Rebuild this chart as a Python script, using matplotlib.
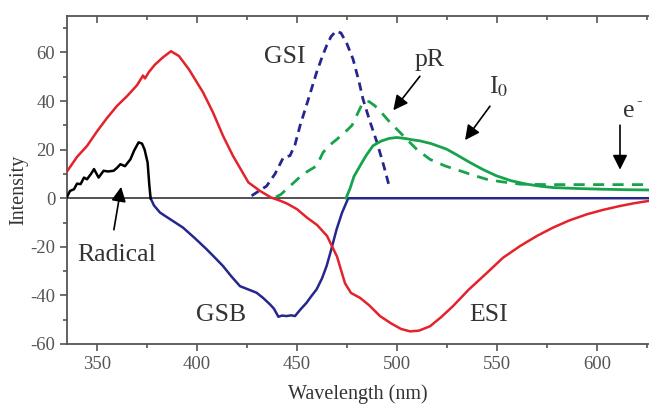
import numpy as np
import matplotlib.pyplot as plt

plt.rcParams['font.family'] = ['Liberation Serif', 'DejaVu Serif']
plt.rcParams['mathtext.fontset'] = 'stix'
plt.rcParams['axes.unicode_minus'] = False

# ESI / excited-state trace (red)
wl_esi = [335, 340, 345, 350, 355, 360, 365, 370, 373, 374, 376, 379, 383, 387,
          391, 396, 403, 408, 413, 418, 425.7, 431.5, 437, 441.5, 445, 450, 455,
          460, 465, 470, 474, 477, 481.5, 486, 491.5, 497, 502, 506.5, 511, 516.5,
          522, 528, 536, 545, 553, 561.5, 570, 578, 586, 595, 603, 611.5, 619, 626]
esi = [11, 17, 21.5, 27.5, 33, 38, 42, 46.5, 50.5, 49.3, 52, 55, 58, 60.5,
       58.5, 53, 43.6, 35.3, 25.7, 17.4, 6.5, 3, 0.3, -1, -2.2, -4.5, -8,
       -11, -15.5, -24, -35, -39, -41, -44, -48.5, -51.5, -53.8, -54.8, -54.5, -52.7,
       -49, -44.4, -37.5, -30.7, -24.5, -19.7, -15.5, -12.1, -9.2, -6.6, -4.8, -3.2, -2, -1.1]

# radical absorption (black)
wl_rad = [335, 336.5, 338.5, 340, 341.8, 343.5, 345, 347, 348.5, 350.8, 353.3, 355.5,
          358.3, 360, 361.7, 364, 366.7, 368.5, 370.8, 372.5, 373.8, 375.3, 376.2, 376.8]
rad = [0.5, 3, 3.7, 6, 5.8, 8.5, 7.8, 10, 12, 8.5, 11.3, 11, 11.3, 12.5, 14, 13.2,
       16, 19.5, 23, 22.5, 20, 14.7, 5, 0]

# ground-state bleach (blue)
wl_gsb = [376.8, 378.5, 381.5, 385, 388, 393, 399, 404.8, 409, 413, 417, 421.5, 425.5,
          429.8, 433, 436.5, 438.5, 440.7, 442.5, 444.8, 447, 449, 451.5, 454.8, 457,
          459.8, 462.5, 464.8, 467, 469.8, 472.5, 475.6, 500, 550, 600, 626]
gsb = [0, -3, -5.9, -7.8, -9.4, -12.1, -16.5, -21, -24.5, -27.9, -32, -36.2, -37.5,
       -38.9, -41, -43.7, -45.5, -48.8, -48.3, -48.5, -48.2, -48.5, -46, -43, -40.5,
       -37.5, -33, -27.9, -21.5, -12.8, -6, 0, 0, 0, 0, 0]

# GSI (blue dashed)
wl_gsi = [427.3, 431, 434.8, 439, 443.2, 446.5, 449, 451.5, 455.7, 459.8, 462.5, 464.8,
          467, 469.5, 472, 475, 478, 481, 483, 486.5, 490, 493.5, 496.5]
gsi = [1, 3, 5, 10, 16.8, 17.5, 22, 29.8, 40.8, 51.8, 58, 62.8, 66.5, 68.8, 68,
       63.5, 57.3, 48, 40.8, 31.5, 23, 13, 3.7]

# pR (green dashed)
wl_pr = [439.5, 442, 446.5, 453, 459.8, 463, 466, 470, 474.8, 477.5, 479.8, 483,
         486, 489, 493, 496.5, 501, 504.8, 510, 516.5, 524, 531.5, 538, 544.8,
         552, 561.5, 575, 600, 626]
pr = [0.5, 1.6, 5, 9.9, 13.3, 18.8, 21.6, 24.3, 27.8, 30, 34, 39.5, 39.8, 38,
      34.5, 31.2, 27.5, 24.3, 20, 16, 13.3, 11.3, 9.5, 7.8, 6.8, 5.8, 5.6, 5.6, 5.6]

# I0 (green solid)
wl_i0 = [474.5, 476.5, 478.5, 481.5, 484.5, 488, 492, 496, 499.8, 504, 508, 511.5,
         517, 524.8, 530, 536.5, 543, 549.8, 557, 564.8, 572, 578, 590, 603, 615, 626]
i0 = [0, 4, 9, 13.3, 17.5, 21.6, 23.5, 24.6, 25, 24.6, 24, 23.6, 22.5, 20.2, 17.8,
      14.7, 11.8, 9.2, 7.2, 5.8, 4.9, 4.4, 4, 3.7, 3.5, 3.4]

red = '#e4222b'
blue = '#26268f'
green = '#17a24c'
txt = '#333333'

fig = plt.figure(figsize=(6.49, 4.04), dpi=100)
ax = fig.add_axes([67/649, 1 - 344/404, 582/649, 328/404])

ax.axhline(0, color='#444444', lw=1.3, zorder=1)
ax.plot(wl_gsb, gsb, color=blue, lw=1.8, zorder=3)
ax.plot(wl_esi, esi, color=red, lw=1.8, zorder=4)
ax.plot(wl_rad, rad, color='black', lw=1.8, zorder=4)
ax.plot(wl_gsi, gsi, color=blue, lw=2, ls=(0, (3, 2)), zorder=3)
ax.plot(wl_pr, pr, color=green, lw=2, ls=(0, (4, 3)), zorder=3)
ax.plot(wl_i0, i0, color=green, lw=2, zorder=3)

ax.set_xlim(335, 626)
ax.set_ylim(-60, 75)
ax.set_xticks([350, 400, 450, 500, 550, 600])
ax.set_xticks([375, 425, 475, 525, 575, 625], minor=True)
ax.set_yticks([-60, -40, -20, 0, 20, 40, 60])
ax.set_yticks([-50, -30, -10, 10, 30, 50, 70], minor=True)

ax.spines['right'].set_visible(False)
for s in ['left', 'bottom', 'top']:
    ax.spines[s].set_color('#555555')
    ax.spines[s].set_linewidth(1.3)
ax.tick_params(which='major', length=5, width=1.2, color='#555555',
               labelsize=13.5, labelcolor='#555555', direction='out')
ax.tick_params(which='minor', length=3, width=1.2, color='#555555', direction='out')

# mirrored ticks on the top axis, pointing inward
top = ax.secondary_xaxis('top')
top.set_xticks([350, 400, 450, 500, 550, 600])
top.set_xticks([375, 425, 475, 525, 575, 625], minor=True)
top.tick_params(which='major', direction='in', length=5, width=1.2, color='#555555',
                labeltop=False)
top.tick_params(which='minor', direction='in', length=3, width=1.2, color='#555555')
top.spines['top'].set_visible(False)

ax.set_xlabel('Wavelength (nm)', fontsize=14.5, color=txt, labelpad=8)
ax.set_ylabel('Intensity', fontsize=14.5, color=txt)
ax.yaxis.set_label_coords(-0.067, 0.47)

fs = 18.5
ax.text(444, 58, 'GSI', fontsize=fs, color=txt, ha='center', va='center')
ax.text(516.5, 57, 'pR', fontsize=fs, color=txt, ha='center', va='center')
ax.text(551, 46, r'I$_0$', fontsize=fs, color=txt, ha='center', va='center')
ax.text(616, 36, 'e', fontsize=fs, color=txt, ha='center', va='center')
ax.annotate('-', xy=(616, 36), xytext=(5, 7), textcoords='offset points',
            fontsize=12, color=txt, ha='left', va='center')
ax.text(360, -23.5, 'Radical', fontsize=fs, color=txt, ha='center', va='center')
ax.text(412, -48, 'GSB', fontsize=fs, color=txt, ha='center', va='center')
ax.text(546, -48, 'ESI', fontsize=fs, color=txt, ha='center', va='center')

arrow = dict(arrowstyle='-|>', color='black', lw=1.2, mutation_scale=22)
ax.annotate('', xy=(497.3, 35.3), xytext=(512.3, 51.1), arrowprops=arrow)
ax.annotate('', xy=(533.2, 23), xytext=(547.3, 38.8), arrowprops=arrow)
ax.annotate('', xy=(611.5, 10.6), xytext=(611.5, 31.2), arrowprops=arrow)
ax.annotate('', xy=(362.3, 5.8), xytext=(358.2, -14.1), arrowprops=arrow)

fig.savefig('out.png', dpi=100)
